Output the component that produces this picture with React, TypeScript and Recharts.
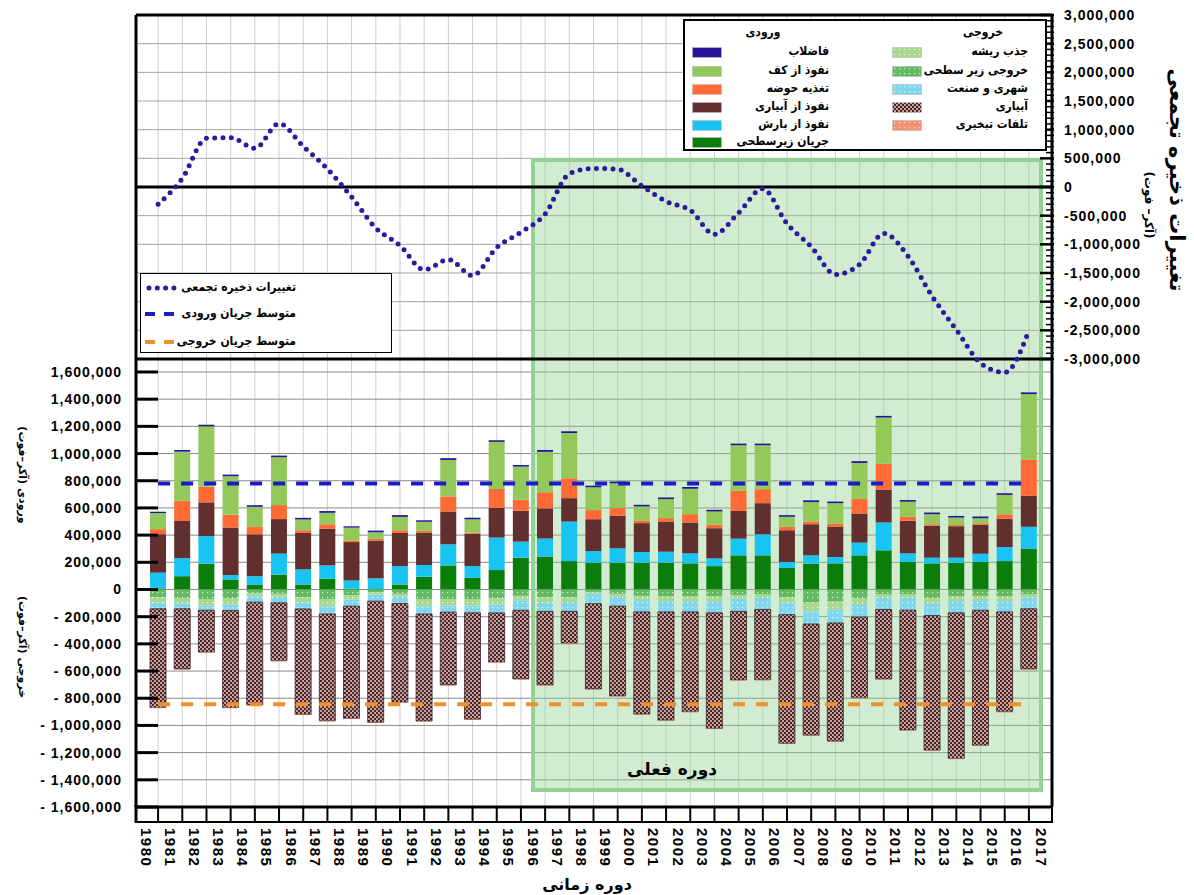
import React from 'react'
import {
  ComposedChart,
  Bar,
  Line,
  XAxis,
  YAxis,
  CartesianGrid,
  ReferenceLine,
  ReferenceArea
} from 'recharts'

// 37 bars, each one sits between two year ticks
const periods = [
  1980, 1981, 1982, 1983, 1984, 1985, 1986, 1987, 1988, 1989, 1990, 1991, 1992,
  1993, 1994, 1995, 1996, 1997, 1998, 1999, 2000, 2001, 2002, 2003, 2004, 2005,
  2006, 2007, 2008, 2009, 2010, 2011, 2012, 2013, 2014, 2015, 2016
]
const yearTicks = [
  1980, 1981, 1982, 1983, 1984, 1985, 1986, 1987, 1988, 1989, 1990, 1991, 1992,
  1993, 1994, 1995, 1996, 1997, 1998, 1999, 2000, 2001, 2002, 2003, 2004, 2005,
  2006, 2007, 2008, 2009, 2010, 2011, 2012, 2013, 2014, 2015, 2016, 2017
]

// inflows (acre-ft)
const subsurfaceIn = [8000, 98000, 190000, 74000, 37000, 109000, 37000, 79000, 5000, 3000, 37000, 94000, 177000, 86000, 143000, 234000, 242000, 209000, 197000, 197000, 197000, 197000, 192000, 172000, 251000, 251000, 158000, 190000, 192000, 251000, 288000, 202000, 192000, 197000, 202000, 209000, 301000]
const rainRecharge = [116000, 133000, 202000, 32000, 61000, 155000, 111000, 98000, 61000, 79000, 135000, 86000, 155000, 86000, 239000, 118000, 133000, 291000, 86000, 106000, 79000, 81000, 74000, 57000, 123000, 155000, 44000, 61000, 47000, 94000, 205000, 64000, 42000, 37000, 61000, 103000, 160000]
const irrigationRecharge = [283000, 273000, 249000, 350000, 308000, 254000, 271000, 271000, 283000, 278000, 244000, 239000, 242000, 239000, 219000, 227000, 222000, 172000, 234000, 239000, 212000, 222000, 227000, 222000, 204000, 229000, 234000, 229000, 224000, 214000, 242000, 239000, 234000, 231000, 214000, 209000, 229000]
const basinRecharge = [37000, 148000, 116000, 94000, 54000, 103000, 17000, 32000, 12000, 12000, 20000, 12000, 111000, 7000, 138000, 81000, 118000, 146000, 67000, 57000, 17000, 25000, 61000, 25000, 148000, 103000, 25000, 20000, 22000, 106000, 190000, 30000, 12000, 10000, 10000, 32000, 264000]
const bedSeepage = [118000, 362000, 443000, 283000, 148000, 352000, 79000, 84000, 94000, 49000, 98000, 67000, 268000, 98000, 347000, 244000, 298000, 333000, 168000, 182000, 106000, 140000, 187000, 98000, 335000, 323000, 74000, 143000, 150000, 266000, 340000, 111000, 74000, 54000, 37000, 143000, 483000]
const wastewater = [10000, 12000, 12000, 12000, 12000, 12000, 12000, 13000, 10000, 12000, 13000, 11000, 13000, 12000, 12000, 12000, 13000, 13000, 12000, 13000, 12000, 12000, 13000, 12000, 12000, 12000, 12000, 13000, 12000, 13000, 12000, 12000, 12000, 12000, 13000, 12000, 13000]

// outflows (acre-ft, negative)
const subsurfaceOut = [-58000, -62000, -70000, -66000, -29000, -32000, -56000, -74000, -44000, -22000, -32000, -74000, -70000, -70000, -66000, -47000, -56000, -56000, -18000, -32000, -47000, -52000, -52000, -52000, -40000, -37000, -56000, -96000, -89000, -66000, -37000, -37000, -62000, -52000, -47000, -52000, -37000]
const rootUptake = [-40000, -41000, -48000, -45000, -20000, -22000, -38000, -49000, -30000, -15000, -22000, -49000, -48000, -48000, -45000, -32000, -38000, -38000, -12000, -22000, -32000, -34000, -34000, -34000, -27000, -24000, -38000, -64000, -59000, -45000, -24000, -24000, -41000, -34000, -32000, -34000, -24000]
const urbanIndustry = [-44000, -39000, -35000, -44000, -44000, -44000, -49000, -57000, -49000, -49000, -49000, -57000, -49000, -54000, -61000, -74000, -67000, -67000, -74000, -69000, -86000, -79000, -79000, -86000, -94000, -86000, -91000, -94000, -98000, -91000, -86000, -91000, -89000, -86000, -74000, -79000, -81000]
const irrigationOut = [-727000, -443000, -308000, -714000, -756000, -426000, -776000, -786000, -825000, -892000, -727000, -788000, -535000, -783000, -362000, -505000, -542000, -234000, -628000, -660000, -752000, -796000, -734000, -850000, -505000, -517000, -948000, -818000, -870000, -594000, -512000, -882000, -990000, -1072000, -993000, -734000, -443000]
const evaporation = [-3000, -3000, -4000, -3000, -3000, -4000, -3000, -3000, -3000, -3000, -4000, -3000, -4000, -3000, -4000, -3000, -4000, -4000, -3000, -3000, -3000, -3000, -4000, -3000, -4000, -4000, -3000, -3000, -3000, -4000, -4000, -3000, -3000, -3000, -3000, -3000, -4000]

// cumulative storage change (acre-ft)
const storageChange = [-300000, 150000, 850000, 860000, 675000, 1105000, 710000, 315000, -175000, -715000, -1020000, -1445000, -1265000, -1545000, -1055000, -790000, -470000, 230000, 325000, 310000, 20000, -250000, -405000, -825000, -450000, -30000, -640000, -1040000, -1525000, -1350000, -810000, -1205000, -1905000, -2490000, -3070000, -3235000, -2500000]

const avgInflow = 780000
const avgOutflow = -845000

const flowTicks = [-1600000, -1400000, -1200000, -1000000, -800000, -600000, -400000, -200000, 0, 200000, 400000, 600000, 800000, 1000000, 1200000, 1400000, 1600000]
const storageMajor = [-3000000, -2500000, -2000000, -1500000, -1000000, -500000, 0, 500000, 1000000, 1500000, 2000000, 2500000, 3000000]
// comb of minor ticks every 100,000 between the labelled ones
const storageTicks = storageMajor.flatMap((v, i) =>
  i === 0 ? [v] : [1, 2, 3, 4, 5].map(k => storageMajor[i - 1] + k * 100000)
)

const inflowSeries = [
  { key: 'subIn', name: 'جریان زیرسطحی', fill: '#0b7d0b', values: subsurfaceIn },
  { key: 'rain', name: 'نفوذ از بارش', fill: '#18c5f2', values: rainRecharge },
  { key: 'irrIn', name: 'نفوذ از آبیاری', fill: '#622f2f', values: irrigationRecharge },
  { key: 'basin', name: 'تغذیه حوضه', fill: '#ff6a35', values: basinRecharge },
  { key: 'bed', name: 'نفوذ از کف', fill: '#93c95b', values: bedSeepage },
  { key: 'waste', name: 'فاضلاب', fill: '#24149a', values: wastewater }
]
const outflowSeries = [
  { key: 'subOut', name: 'خروجی زیر سطحی', fill: 'url(#pSubOut)', values: subsurfaceOut },
  { key: 'root', name: 'جذب ریشه', fill: 'url(#pRoot)', values: rootUptake },
  { key: 'urban', name: 'شهری و صنعت', fill: 'url(#pUrban)', values: urbanIndustry },
  { key: 'irrOut', name: 'آبیاری', fill: 'url(#pIrr)', values: irrigationOut },
  { key: 'evap', name: 'تلفات تبخیری', fill: 'url(#pEvap)', values: evaporation }
]
const inflowLegendOrder = ['waste', 'bed', 'basin', 'irrIn', 'rain', 'subIn']
const outflowLegendOrder = ['root', 'subOut', 'urban', 'irrOut', 'evap']

const chartData = periods.map((period, i) => {
  const row: any = { period, storage: storageChange[i] }
  inflowSeries.forEach(s => { row[s.key] = s.values[i] })
  outflowSeries.forEach(s => { row[s.key] = s.values[i] })
  return row
})

const NUM_FONT = '"Liberation Sans", Arial, sans-serif'
const FA_FONT = '"DejaVu Sans", sans-serif'
const FA_NARROW = '"DejaVu Sans Condensed", "DejaVu Sans", sans-serif'

const fmtFlow = (v: number) =>
  v < 0 ? `- ${Math.abs(v).toLocaleString('en-US')}` : v.toLocaleString('en-US')

const FlowTick = (p: any) => {
  const { x, y, payload } = p
  return (
    <g>
      <line x1={x + 14} x2={x + 36} y1={y} y2={y} stroke="#000" strokeWidth={3} />
      <text x={x} y={y} dy={5} textAnchor="end" fontFamily={NUM_FONT} fontWeight={700} fontSize={14} letterSpacing={1} fill="#000">
        {fmtFlow(payload.value)}
      </text>
    </g>
  )
}

const StorageTick = (p: any) => {
  const { x, y, payload } = p
  const major = payload.value % 500000 === 0
  return (
    <g>
      <line x1={x - 12 - (major ? 12 : 6)} x2={x - 10} y1={y} y2={y} stroke="#000" strokeWidth={major ? 2.5 : 1.5} />
      {major && (
        <text x={x} y={y} dy={5} textAnchor="start" fontFamily={NUM_FONT} fontWeight={700} fontSize={14} letterSpacing={1} fill="#000">
          {payload.value.toLocaleString('en-US')}
        </text>
      )}
    </g>
  )
}

const YearTick = (p: any) => {
  const { x, y, payload } = p
  return (
    <text x={x} y={y} transform={`rotate(90 ${x} ${y})`} textAnchor="start" dominantBaseline="central"
      fontFamily={NUM_FONT} fontWeight={700} fontSize={15} letterSpacing={1.5} fill="#000">
      {payload.value}
    </text>
  )
}

const dotPattern = (id: string, bg: string, dot: string) => (
  <pattern id={id} width="5" height="5" patternUnits="userSpaceOnUse">
    <rect width="5" height="5" fill={bg} />
    <rect x="2" y="2" width="1.2" height="1.2" fill={dot} />
  </pattern>
)

function PatternDefs() {
  return (
    <svg width="0" height="0" style={{ position: 'absolute' }}>
      <defs>
        {dotPattern('pSubOut', '#64b964', '#d8f0d2')}
        {dotPattern('pRoot', '#a9d98c', '#ecf8e0')}
        {dotPattern('pUrban', '#80d6ec', '#e2f7fd')}
        {dotPattern('pEvap', '#f29272', '#ffdacb')}
        <pattern id="pIrr" width="4" height="4" patternUnits="userSpaceOnUse">
          <rect width="4" height="4" fill="#c7a2a2" />
          <rect width="2" height="2" fill="#4a2626" />
          <rect x="2" y="2" width="2" height="2" fill="#4a2626" />
        </pattern>
      </defs>
    </svg>
  )
}

const legendRows = [52, 70.5, 88.5, 106.5, 124.5, 142]

function Swatch({ fill, left, top }: { fill: string; left: number; top: number }) {
  return (
    <svg width={30} height={11} style={{ position: 'absolute', left, top }}>
      <rect x={0.5} y={0.5} width={29} height={10} fill={fill} stroke="#bbb" strokeWidth={0.6} />
    </svg>
  )
}

function LegendLabel({ text, right, top }: { text: string; right: number; top: number }) {
  return (
    <div style={{ position: 'absolute', right: 1194 - right, top, fontFamily: FA_NARROW, fontWeight: 700, fontSize: 12, direction: 'rtl', whiteSpace: 'nowrap', lineHeight: '16px' }}>
      {text}
    </div>
  )
}

function TopLegend() {
  const byKey = (arr: any[], k: string) => arr.find(s => s.key === k)
  return (
    <>
      <div style={{ position: 'absolute', left: 683, top: 19, width: 360, height: 128, border: '2px solid #000', background: '#fff' }} />
      <div style={{ position: 'absolute', left: 733, width: 60, top: 25, textAlign: 'center', fontFamily: FA_NARROW, fontWeight: 700, fontSize: 12 }}>ورودی</div>
      <div style={{ position: 'absolute', left: 953, width: 60, top: 25, textAlign: 'center', fontFamily: FA_NARROW, fontWeight: 700, fontSize: 12 }}>خروجی</div>
      {inflowLegendOrder.map((k, i) => {
        const s = byKey(inflowSeries, k)
        return (
          <React.Fragment key={k}>
            <Swatch fill={s.fill} left={692} top={legendRows[i] - 5} />
            <LegendLabel text={s.name} right={829} top={legendRows[i] - 9} />
          </React.Fragment>
        )
      })}
      {outflowLegendOrder.map((k, i) => {
        const s = byKey(outflowSeries, k)
        return (
          <React.Fragment key={k}>
            <Swatch fill={s.fill} left={892} top={legendRows[i] - 5} />
            <LegendLabel text={s.name} right={1028} top={legendRows[i] - 9} />
          </React.Fragment>
        )
      })}
    </>
  )
}

function LineLegend() {
  return (
    <>
      <div style={{ position: 'absolute', left: 140, top: 273, width: 250, height: 78, border: '1.5px solid #000', background: '#fff' }} />
      <svg width={40} height={80} style={{ position: 'absolute', left: 140, top: 273 }}>
        <line x1={9} x2={34} y1={15} y2={15} stroke="#2b1a9e" strokeWidth={5} strokeDasharray="0 8.3" strokeLinecap="round" />
        <line x1={5} x2={36} y1={41} y2={41} stroke="#1c1cc4" strokeWidth={4} strokeDasharray="10 9" />
        <line x1={5} x2={36} y1={69} y2={69} stroke="#f0902c" strokeWidth={4} strokeDasharray="10 9" />
      </svg>
      <LegendLabel text="تغییرات ذخیره تجمعی" right={296} top={279} />
      <LegendLabel text="متوسط جریان ورودی" right={296} top={305} />
      <LegendLabel text="متوسط جریان خروجی" right={296} top={333} />
    </>
  )
}

function Titles() {
  const t = (x: number, y: number, size: number, text: string, rotate = true) => (
    <text x={x} y={y} textAnchor="middle" dominantBaseline="central" direction="rtl"
      transform={rotate ? `rotate(90 ${x} ${y})` : undefined}
      fontFamily={FA_FONT} fontWeight={700} fontSize={size} fill="#000">{text}</text>
  )
  return (
    <svg width={1194} height={895} style={{ position: 'absolute', left: 0, top: 0, pointerEvents: 'none' }}>
      {t(1177, 180, 21, 'تغییرات ذخیره تجمعی')}
      {t(1149, 205, 12, '(آکر– فوت)')}
      {t(22, 475, 11, 'ورودی (آکر–فوت)')}
      {t(22, 647, 11, 'خروجی (آکر–فوت)')}
      {t(587, 884, 16, 'دوره زمانی', false)}
      {t(672, 769, 17, 'دوره فعلی', false)}
      <line x1={136} x2={136} y1={805} y2={823} stroke="#000" strokeWidth={3} />
      <line x1={1052} x2={1052} y1={805} y2={823} stroke="#000" strokeWidth={2} />
    </svg>
  )
}

export default function App() {
  return (
    <div style={{ position: 'absolute', left: 0, top: 0, width: 1194, height: 895, background: '#fff', overflow: 'hidden' }}>
      <PatternDefs />
      <div style={{ position: 'absolute', left: 0, top: 0 }}>
        <ComposedChart width={1194} height={895} data={chartData} stackOffset="sign"
          margin={{ top: 15, right: 12, bottom: 13, left: 16 }}>
          <CartesianGrid xAxisId={0} yAxisId="flow" horizontal={false} stroke="#cfcfcf" />
          <CartesianGrid xAxisId={0} yAxisId="flow" vertical={false} stroke="#8a8a8a" />
          <CartesianGrid xAxisId={0} yAxisId="storageGrid" vertical={false} stroke="#a3a3a3" />

          <XAxis xAxisId={0} dataKey="period" type="category" padding={{ left: 10, right: 11 }}
            height={15} interval={0} tickSize={15} tick={() => <g />}
            tickLine={{ stroke: '#000', strokeWidth: 2 }} axisLine={{ stroke: '#000', strokeWidth: 3 }} />
          <XAxis xAxisId="yr" dataKey="period" type="number" domain={[1980, 2017]} allowDataOverflow
            ticks={yearTicks} interval={0} padding={{ left: 10, right: 11 }} height={60}
            tickSize={0} tickMargin={6} tickLine={false} tick={<YearTick />}
            axisLine={{ stroke: '#000', strokeWidth: 2 }} />

          <YAxis yAxisId="flow" orientation="left" type="number" width={120}
            domain={[-1600000, 4226000]} allowDataOverflow ticks={flowTicks} interval={0}
            tickSize={0} tickMargin={14} tickLine={false} tick={<FlowTick />}
            axisLine={{ stroke: '#000', strokeWidth: 3 }} />
          <YAxis yAxisId="storage" orientation="right" type="number" width={130}
            domain={[-10814000, 3000000]} allowDataOverflow ticks={storageTicks} interval={0}
            tickSize={0} tickMargin={12} tickLine={false} tick={<StorageTick />}
            axisLine={{ stroke: '#000', strokeWidth: 3 }} />
          <YAxis yAxisId="storageGrid" hide type="number" domain={[-10814000, 3000000]}
            allowDataOverflow ticks={storageMajor} interval={0} />

          <ReferenceArea xAxisId={0} yAxisId="flow" x1={1996} x2={2016} y1={-1475000} y2={3160000}
            fill="#8fcf8f" fillOpacity={0.4} stroke="#94d194" strokeWidth={4} />

          {inflowSeries.map(s => (
            <Bar key={s.key} yAxisId="flow" dataKey={s.key} name={s.name} stackId="s" fill={s.fill}
              barSize={16} isAnimationActive={false} />
          ))}
          {outflowSeries.map(s => (
            <Bar key={s.key} yAxisId="flow" dataKey={s.key} name={s.name} stackId="s" fill={s.fill}
              stroke={s.key === 'irrOut' ? '#3a2222' : undefined} strokeWidth={s.key === 'irrOut' ? 0.8 : 0}
              barSize={16} isAnimationActive={false} />
          ))}

          <ReferenceLine yAxisId="storage" y={3000000} stroke="#000" strokeWidth={3} />
          <ReferenceLine yAxisId="storage" y={0} stroke="#000" strokeWidth={3} />
          <ReferenceLine yAxisId="storage" y={-3000000} stroke="#000" strokeWidth={3} />
          <ReferenceLine xAxisId={0} yAxisId="flow"
            segment={[{ x: periods[0], y: avgInflow }, { x: periods[periods.length - 1], y: avgInflow }]}
            stroke="#1c1cc4" strokeWidth={4} strokeDasharray="12 11" />
          <ReferenceLine xAxisId={0} yAxisId="flow"
            segment={[{ x: periods[0], y: avgOutflow }, { x: periods[periods.length - 1], y: avgOutflow }]}
            stroke="#f0902c" strokeWidth={4} strokeDasharray="12 11" />

          <Line yAxisId="storage" dataKey="storage" type="monotone" stroke="#2b1a9e" strokeWidth={5}
            strokeDasharray="0 8.3" strokeLinecap="round" dot={false} isAnimationActive={false} />
        </ComposedChart>
      </div>
      <TopLegend />
      <LineLegend />
      <Titles />
    </div>
  )
}
